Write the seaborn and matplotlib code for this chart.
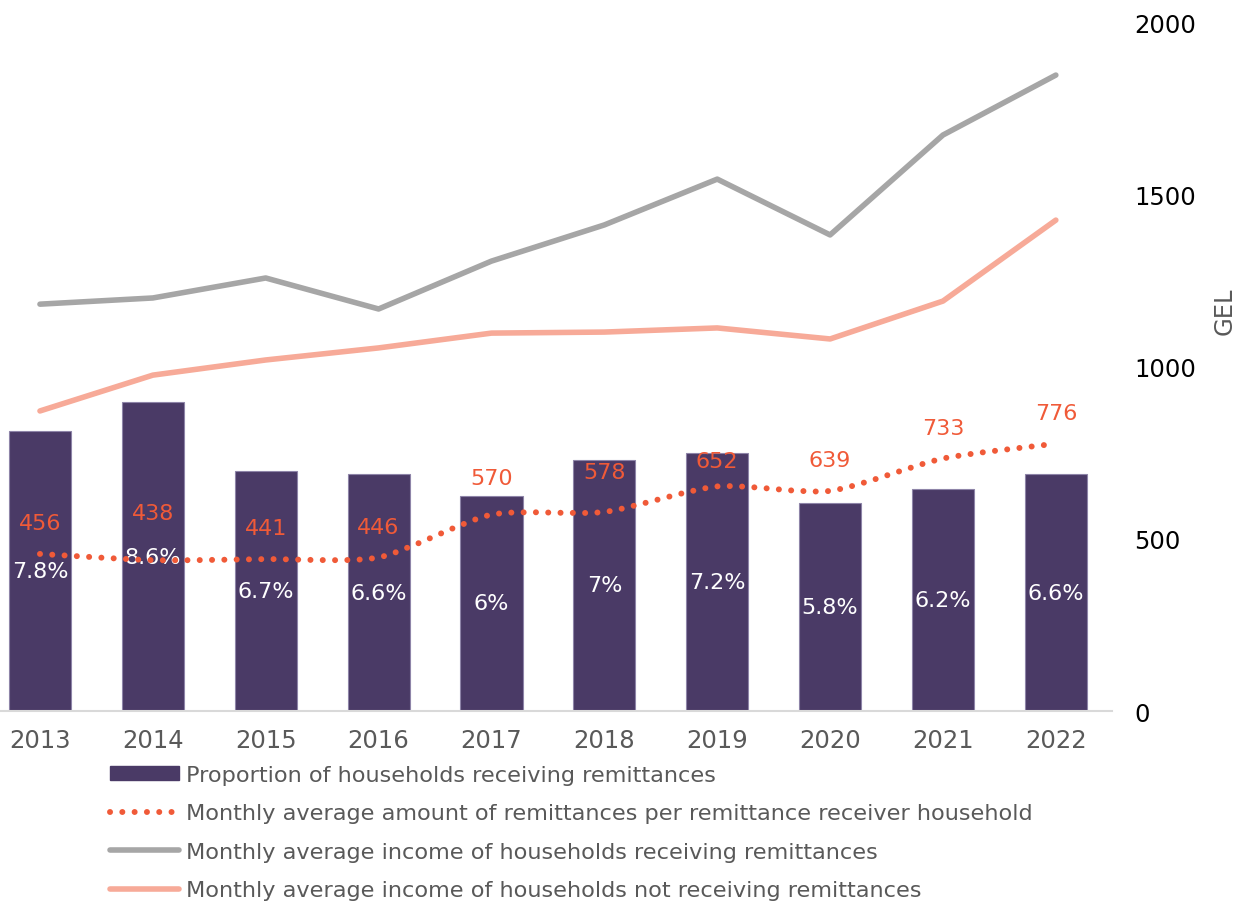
import numpy as np
import pandas as pd
import matplotlib
matplotlib.use("Agg")
import matplotlib.pyplot as plt
import seaborn as sns
from matplotlib.path import Path
from matplotlib.patches import PathPatch, Patch
from matplotlib.lines import Line2D

years = ["2013", "2014", "2015", "2016", "2017", "2018", "2019", "2020", "2021", "2022"]
share_pct = [7.8, 8.6, 6.7, 6.6, 6.0, 7.0, 7.2, 5.8, 6.2, 6.6]
share_labels = ["7.8%", "8.6%", "6.7%", "6.6%", "6%", "7%", "7.2%", "5.8%", "6.2%", "6.6%"]
remit_amount = [456, 438, 441, 446, 570, 578, 652, 639, 733, 776]
income_receiving = [1181, 1199, 1257, 1167, 1306, 1411, 1544, 1382, 1672, 1846]
income_not_receiving = [871, 975, 1019, 1054, 1097, 1100, 1112, 1080, 1190, 1425]

legend_labels = [
    "Proportion of households receiving remittances",
    "Monthly average amount of remittances per remittance receiver household",
    "Monthly average income of households receiving remittances",
    "Monthly average income of households not receiving remittances",
]

BAR = "#4a3a66"
DOT = "#f05a38"
GRAY = "#a6a6a6"
SALMON = "#f7aa98"
TXT = "#595959"
DOTSTYLE = (0, (0.01, 2.05))

sns.set_theme(style="white")
plt.rcParams["font.family"] = ["DejaVu Sans"]

fig = plt.figure(figsize=(12.38, 9.03), dpi=100)
ax = fig.add_axes([0.0, 0.2115, 0.898, 0.763])

df = pd.DataFrame({"year": years, "share": share_pct})
sns.barplot(data=df, x="year", y="share", color=BAR, width=0.55, saturation=1,
            edgecolor="#8e84a8", linewidth=0.8, ax=ax)
ax.set_xlim(-0.354, 9.495)
ax.set_ylim(0, 19.2)
ax.set_yticks([])
ax.set_xlabel("")
ax.set_ylabel("")
for s in ["top", "right", "left"]:
    ax.spines[s].set_visible(False)
ax.spines["bottom"].set_color("#d9d9d9")
ax.spines["bottom"].set_linewidth(1.5)
ax.tick_params(axis="x", length=0, pad=12, labelsize=17.5, labelcolor=TXT)

for i, (v, lab) in enumerate(zip(share_pct, share_labels)):
    ax.text(i, v / 2, lab, ha="center", va="center", color="white", fontsize=16)

ax2 = ax.twinx()
xs = np.arange(len(years))
ldf = pd.DataFrame({"x": np.concatenate([xs, xs]),
                    "v": income_receiving + income_not_receiving,
                    "s": ["recv"] * len(xs) + ["not"] * len(xs)})
sns.lineplot(data=ldf, x="x", y="v", hue="s", palette={"recv": GRAY, "not": SALMON},
             linewidth=4, ax=ax2, legend=False, sort=False)
ax2.set_xlim(-0.354, 9.495)
ax2.set_ylim(0, 2000)
ax2.set_yticks([0, 500, 1000, 1500, 2000])
for s in ["top", "right", "left", "bottom"]:
    ax2.spines[s].set_visible(False)
ax2.tick_params(axis="y", length=0, pad=16, labelsize=17.5, labelcolor="black")
ax2.set_xlabel("")
ax2.set_ylabel("GEL", color=TXT, fontsize=17.5)
ax2.yaxis.set_label_coords(1.0905, 0.582)

# smooth dotted line (cubic Bezier through the data points)
pts = np.column_stack([xs, remit_amount]).astype(float)
verts = [tuple(pts[0])]
codes = [Path.MOVETO]
t = 0.12
for i in range(len(pts) - 1):
    p0 = pts[i - 1] if i > 0 else pts[i]
    p1 = pts[i]
    p2 = pts[i + 1]
    p3 = pts[i + 2] if i + 2 < len(pts) else pts[i + 1]
    c1 = p1 + (p2 - p0) * t
    c2 = p2 - (p3 - p1) * t
    verts += [tuple(c1), tuple(c2), tuple(p2)]
    codes += [Path.CURVE4] * 3
patch = PathPatch(Path(verts, codes), facecolor="none", edgecolor=DOT, linewidth=4.3,
                  linestyle=DOTSTYLE, capstyle="round", zorder=5)
ax2.add_patch(patch)

label_offsets = [31, 47, 31, 30, 37, 40, 25, 31, 31, 31]
for i, (v, off) in enumerate(zip(remit_amount, label_offsets)):
    ax2.annotate(str(v), (i, v), xytext=(0, off * 0.72), textcoords="offset points",
                 ha="center", va="center", color=DOT, fontsize=16)

handles = [
    Patch(facecolor=BAR, edgecolor=BAR),
    Line2D([], [], color=DOT, linewidth=4.3, linestyle=DOTSTYLE, dash_capstyle="round"),
    Line2D([], [], color=GRAY, linewidth=4, solid_capstyle="round"),
    Line2D([], [], color=SALMON, linewidth=4, solid_capstyle="round"),
]
leg = fig.legend(handles, legend_labels, loc="upper left", bbox_to_anchor=(0.0815, 0.1617),
                 frameon=False, fontsize=16.15, handlelength=3.1, handleheight=0.55,
                 labelspacing=0.82, handletextpad=0.3, borderaxespad=0)
for t_ in leg.get_texts():
    t_.set_color(TXT)

fig.savefig("out.png", dpi=100)
